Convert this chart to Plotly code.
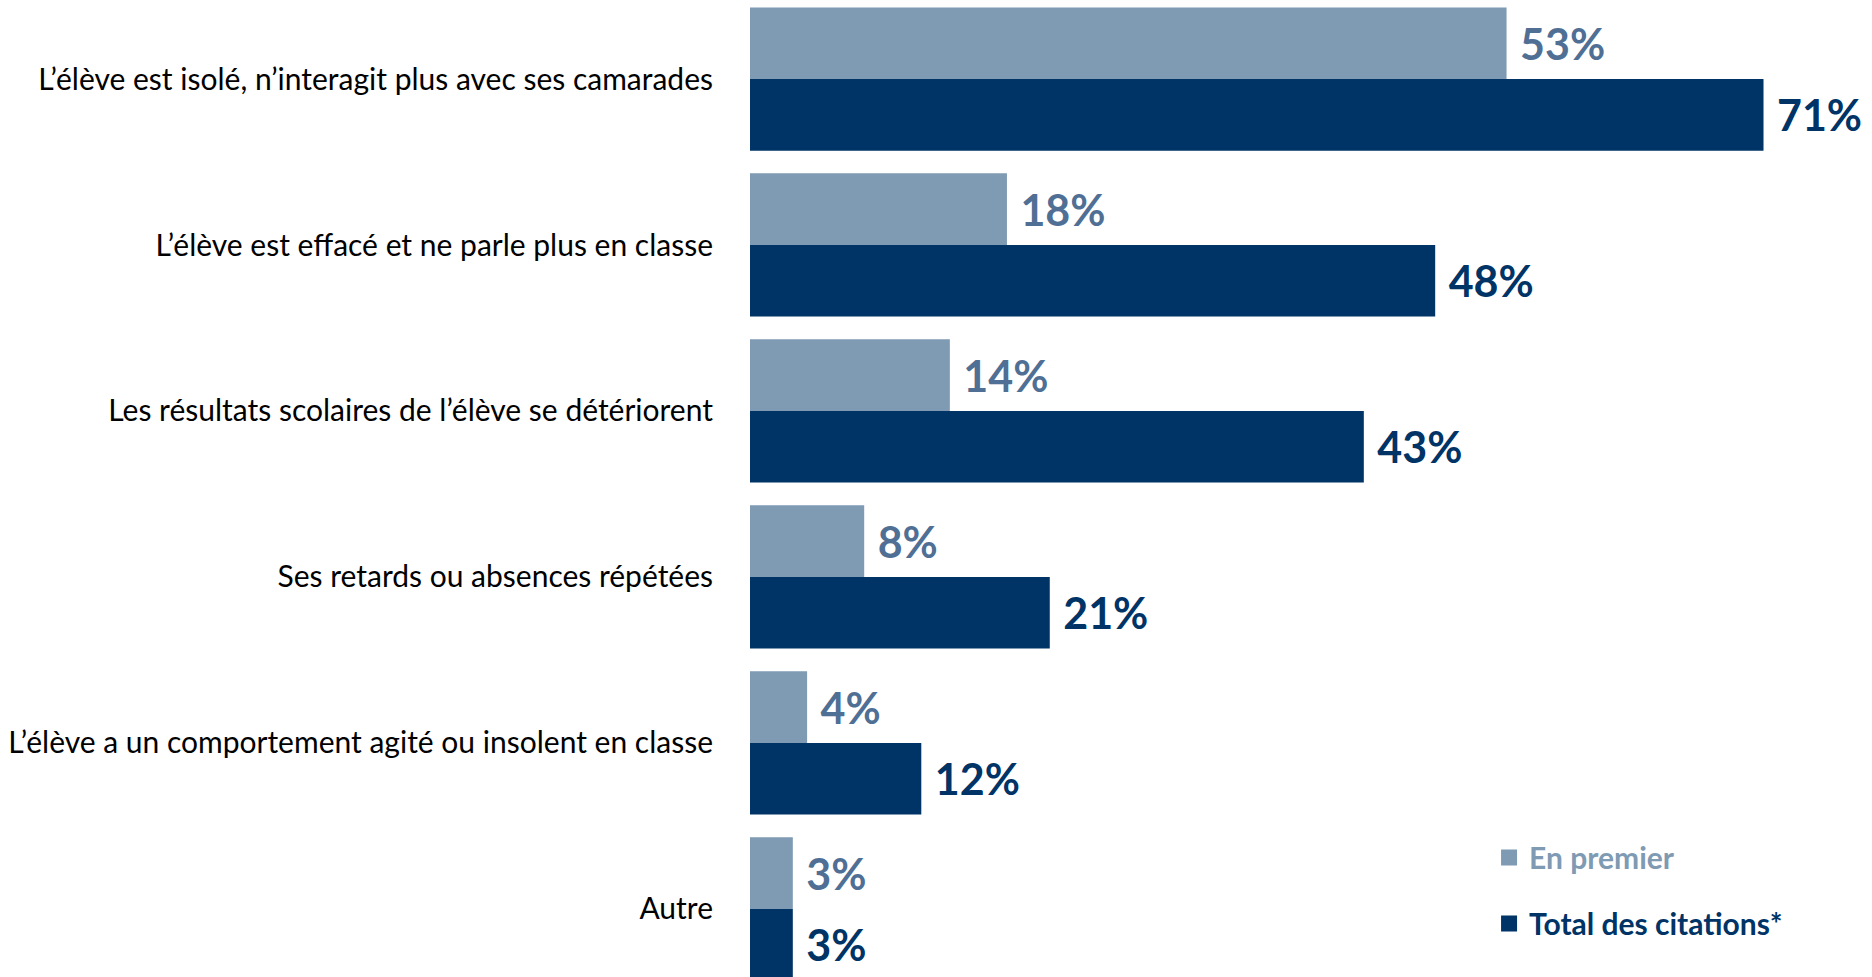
import plotly.graph_objects as go

categories = [
    "L’élève est isolé, n’interagit plus avec ses camarades",
    "L’élève est effacé et ne parle plus en classe",
    "Les résultats scolaires de l’élève se détériorent",
    "Ses retards ou absences répétées",
    "L’élève a un comportement agité ou insolent en classe",
    "Autre",
]
en_premier = [53, 18, 14, 8, 4, 3]
total_citations = [71, 48, 43, 21, 12, 3]
series_names = ["En premier", "Total des citations*"]

LIGHT = "#7F9AB3"
LIGHT_TXT = "#4F6F95"
DARK = "#003366"
FONT = "Lato"

fig = go.Figure()
fig.add_trace(go.Bar(
    y=categories, x=en_premier, orientation="h",
    name=series_names[0],
    marker=dict(color=LIGHT, line=dict(width=0)),
    text=[f"\u00a0{v}%" for v in en_premier], textposition="outside",
    textfont=dict(family=FONT, size=43, color=LIGHT_TXT, weight="bold"),
    cliponaxis=False, showlegend=False,
))
fig.add_trace(go.Bar(
    y=categories, x=total_citations, orientation="h",
    name=series_names[1],
    marker=dict(color=DARK, line=dict(width=0)),
    text=[f"\u00a0{v}%" for v in total_citations], textposition="outside",
    textfont=dict(family=FONT, size=43, color=DARK, weight="bold"),
    cliponaxis=False, showlegend=False,
))
# legend entries (square swatches)
for nm, col, grp in [(series_names[0], LIGHT, "a"), (series_names[1], DARK, "b")]:
    fig.add_trace(go.Scatter(
        x=[None], y=[None], mode="markers",
        marker=dict(symbol="square", size=16, color=col),
        name=f"<span style='color:{col}'><b>{nm}</b></span>",
        legendgroup=grp, showlegend=True,
    ))

fig.update_layout(
    width=1872, height=977,
    margin=dict(l=750, r=0, t=0, b=0),
    paper_bgcolor="white", plot_bgcolor="white",
    barmode="group", bargap=0.137, bargroupgap=0,
    font=dict(family=FONT, size=30, color="black"),
    showlegend=True,
    legend=dict(
        x=0.6587, y=0.149, xanchor="left", yanchor="top",
        font=dict(family=FONT, size=30),
        tracegroupgap=24, itemwidth=30, bgcolor="rgba(0,0,0,0)",
    ),
)
fig.update_xaxes(range=[0, 78.6], visible=False, showgrid=False, zeroline=False)
fig.update_yaxes(
    type="category", categoryarray=categories, categoryorder="array",
    range=[5.41, -0.476],
    showgrid=False, zeroline=False, showline=False,
    ticks="", ticklabelstandoff=36,
    tickfont=dict(family=FONT, size=30, color="black"),
)

fig.write_html("out.html", config={"displayModeBar": False},
               post_script="document.body.style.margin='0';")
